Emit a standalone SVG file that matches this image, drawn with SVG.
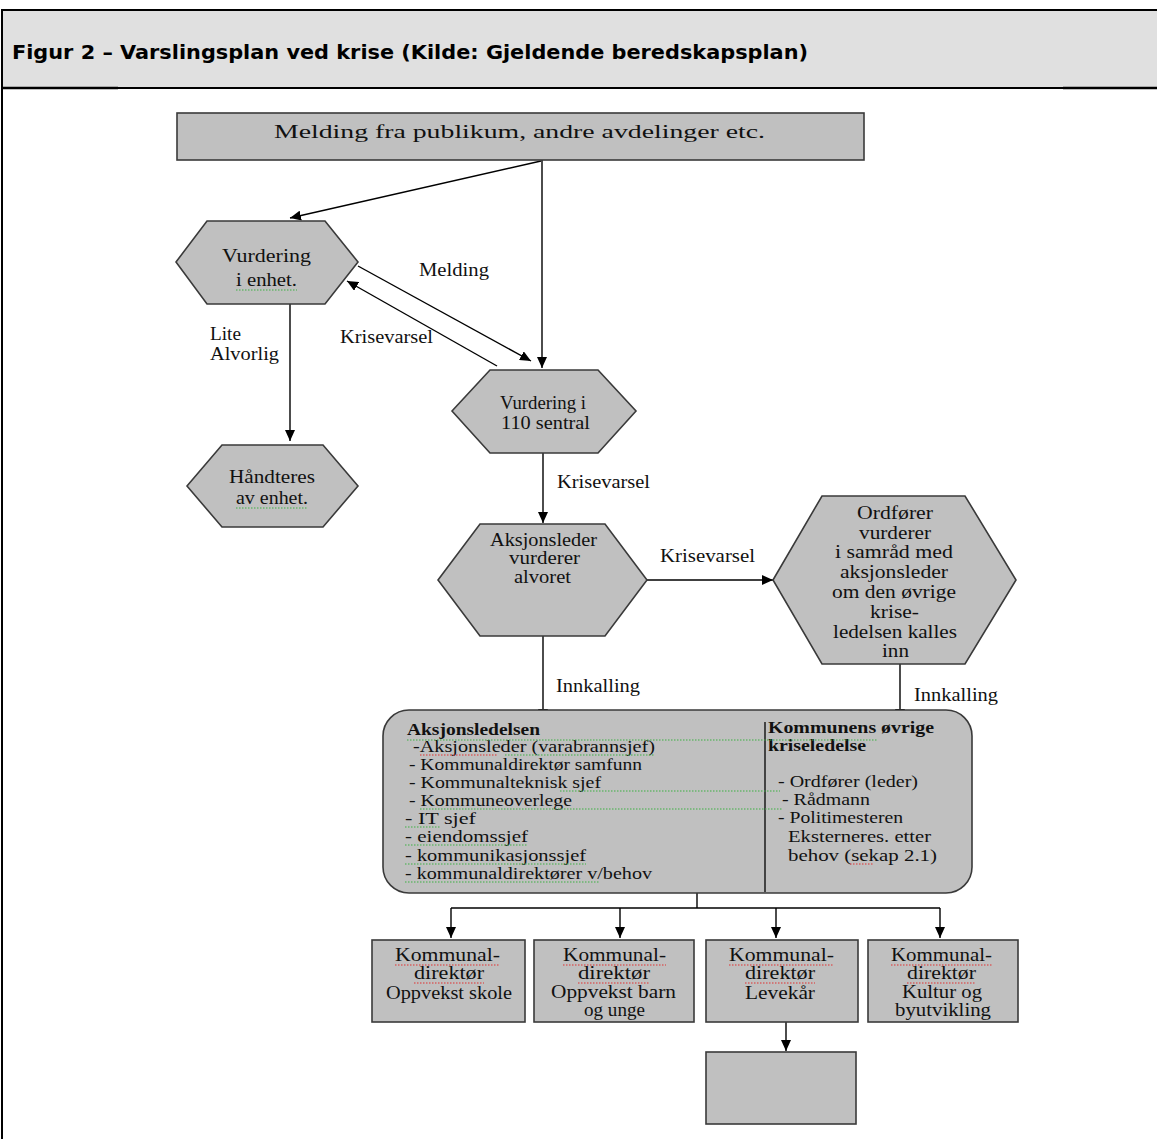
<svg xmlns="http://www.w3.org/2000/svg" width="1157" height="1139" viewBox="0 0 1157 1139">
<defs>
<marker id="ah" markerUnits="userSpaceOnUse" markerWidth="12" markerHeight="10" refX="11" refY="5" orient="auto">
<path d="M0,0 L11,5 L0,10 z" fill="#000"/>
</marker>
<style>
.n{fill:#c0c0c0;stroke:#3a3a3a;stroke-width:1.6}
.t{font-family:"Liberation Serif","Times New Roman",serif;font-size:18px;fill:#111}
.s{font-size:16px}
.c{text-anchor:middle}
.b{font-weight:bold}
.e{stroke:#000;stroke-width:1.4;fill:none}
.a{marker-end:url(#ah)}
.g{stroke:#3cb043;stroke-width:1.2;stroke-dasharray:1.5 1.5;fill:none}
.r{stroke:#e03030;stroke-width:1.2;stroke-dasharray:1.5 1.5;fill:none}
</style>
</defs>
<rect x="0" y="0" width="1157" height="1139" fill="#fff"/>
<g id="header">
<rect x="2" y="10" width="1160" height="78" fill="#e0e0e0" stroke="#000" stroke-width="2"/>
<line x1="2" y1="10" x2="2" y2="1139" stroke="#000" stroke-width="2"/>
<line x1="2" y1="88" x2="118" y2="88" stroke="#000" stroke-width="2.5"/>
<line x1="1063" y1="88" x2="1157" y2="88" stroke="#000" stroke-width="2.5"/>
<text x="12" y="59" font-family="'DejaVu Sans',Verdana,sans-serif" font-weight="bold" font-size="19" textLength="796" lengthAdjust="spacingAndGlyphs" fill="#000">Figur 2 – Varslingsplan ved krise (Kilde: Gjeldende beredskapsplan)</text>
</g>
<g id="connectors">
<line class="e a" x1="541" y1="161" x2="290" y2="218"/>
<line class="e a" x1="542" y1="160" x2="542" y2="368"/>
<line class="e a" x1="358" y1="266" x2="531" y2="361"/>
<line class="e a" x1="497" y1="366" x2="347" y2="281"/>
<line class="e a" x1="290" y1="304" x2="290" y2="441"/>
<line class="e a" x1="543" y1="453" x2="543" y2="523"/>
<line class="e a" x1="647" y1="580" x2="773" y2="580"/>
<line class="e a" x1="543" y1="636" x2="543" y2="720"/>
<line class="e a" x1="900" y1="664" x2="900" y2="720"/>
<line class="e" x1="697" y1="880" x2="697" y2="908"/>
<line class="e" x1="451" y1="908" x2="940" y2="908"/>
<line class="e a" x1="451" y1="908" x2="451" y2="938"/>
<line class="e a" x1="620" y1="908" x2="620" y2="938"/>
<line class="e a" x1="776" y1="908" x2="776" y2="938"/>
<line class="e a" x1="940" y1="908" x2="940" y2="938"/>
<line class="e a" x1="786" y1="1022" x2="786" y2="1051"/>
<text class="t" x="419" y="276" textLength="70" lengthAdjust="spacingAndGlyphs">Melding</text>
<text class="t" x="340" y="343" textLength="93" lengthAdjust="spacingAndGlyphs">Krisevarsel</text>
<text class="t" x="210" y="340" textLength="31" lengthAdjust="spacingAndGlyphs">Lite</text>
<text class="t" x="210" y="360" textLength="69" lengthAdjust="spacingAndGlyphs">Alvorlig</text>
<text class="t" x="557" y="488" textLength="93" lengthAdjust="spacingAndGlyphs">Krisevarsel</text>
<text class="t" x="660" y="562" textLength="95" lengthAdjust="spacingAndGlyphs">Krisevarsel</text>
<text class="t" x="556" y="692" textLength="84" lengthAdjust="spacingAndGlyphs">Innkalling</text>
<text class="t" x="914" y="701" textLength="84" lengthAdjust="spacingAndGlyphs">Innkalling</text>
</g>
<g id="melding">
<rect class="n" x="177" y="113" width="687" height="47"/>
<text class="t" x="274" y="138" font-size="22" textLength="491" lengthAdjust="spacingAndGlyphs">Melding fra publikum, andre avdelinger etc.</text>
</g>
<g id="vurdering-enhet">
<polygon class="n" points="176,262 207,221 325,221 358,262 325,304 207,304"/>
<text class="t" x="222" y="262" textLength="89" lengthAdjust="spacingAndGlyphs">Vurdering</text>
<text class="t" x="236" y="286" textLength="61" lengthAdjust="spacingAndGlyphs">i enhet.</text>
<path class="g" d="M236,290 L297,290"/>
</g>
<g id="handteres">
<polygon class="n" points="187,486 222,445 323,445 358,486 323,527 222,527"/>
<text class="t" x="229" y="483" textLength="86" lengthAdjust="spacingAndGlyphs">Håndteres</text>
<text class="t" x="236" y="504" textLength="72" lengthAdjust="spacingAndGlyphs">av enhet.</text>
<path class="g" d="M236,508 L308,508"/>
</g>
<g id="vurdering-110">
<polygon class="n" points="452,411 490,370 598,370 636,411 598,453 490,453"/>
<text class="t" x="500" y="409" textLength="86" lengthAdjust="spacingAndGlyphs">Vurdering i</text>
<text class="t" x="501" y="429" textLength="89" lengthAdjust="spacingAndGlyphs">110 sentral</text>
</g>
<g id="aksjonsleder">
<polygon class="n" points="438,580 480,524 605,524 647,580 605,636 480,636"/>
<text class="t" x="490" y="546" textLength="107" lengthAdjust="spacingAndGlyphs">Aksjonsleder</text>
<text class="t" x="509" y="564" textLength="71" lengthAdjust="spacingAndGlyphs">vurderer</text>
<text class="t" x="514" y="583" textLength="57" lengthAdjust="spacingAndGlyphs">alvoret</text>
</g>
<g id="ordforer">
<polygon class="n" points="773,580 822,496 965,496 1016,580 965,664 822,664"/>
<text class="t" x="857" y="519" textLength="76" lengthAdjust="spacingAndGlyphs">Ordfører</text>
<text class="t" x="859" y="539" textLength="72" lengthAdjust="spacingAndGlyphs">vurderer</text>
<text class="t" x="835" y="558" textLength="118" lengthAdjust="spacingAndGlyphs">i samråd med</text>
<text class="t" x="840" y="578" textLength="108" lengthAdjust="spacingAndGlyphs">aksjonsleder</text>
<text class="t" x="832" y="598" textLength="124" lengthAdjust="spacingAndGlyphs">om den øvrige</text>
<text class="t" x="870" y="618" textLength="49" lengthAdjust="spacingAndGlyphs">krise-</text>
<text class="t" x="833" y="638" textLength="124" lengthAdjust="spacingAndGlyphs">ledelsen kalles</text>
<text class="t" x="882" y="657" textLength="27" lengthAdjust="spacingAndGlyphs">inn</text>
</g>
<g id="kriseledelse">
<rect class="n" x="383" y="710" width="589" height="183" rx="26" ry="26"/>
<line x1="765" y1="722" x2="765" y2="892" stroke="#000" stroke-width="1.3"/>
<text class="t s b" x="407" y="735" textLength="133" lengthAdjust="spacingAndGlyphs">Aksjonsledelsen</text>
<text class="t s" x="413" y="752" textLength="242" lengthAdjust="spacingAndGlyphs">-Aksjonsleder  (varabrannsjef)</text>
<text class="t s" x="409" y="770" textLength="233" lengthAdjust="spacingAndGlyphs">- Kommunaldirektør samfunn</text>
<text class="t s" x="409" y="788" textLength="192" lengthAdjust="spacingAndGlyphs">- Kommunalteknisk sjef</text>
<text class="t s" x="409" y="806" textLength="163" lengthAdjust="spacingAndGlyphs">- Kommuneoverlege</text>
<text class="t s" x="405" y="824" textLength="71" lengthAdjust="spacingAndGlyphs">-  IT sjef</text>
<text class="t s" x="405" y="842" textLength="123" lengthAdjust="spacingAndGlyphs">-  eiendomssjef</text>
<text class="t s" x="405" y="861" textLength="181" lengthAdjust="spacingAndGlyphs">-  kommunikasjonssjef</text>
<text class="t s" x="405" y="879" textLength="247" lengthAdjust="spacingAndGlyphs">-  kommunaldirektører v/behov</text>
<text class="t s b" x="768" y="733" textLength="166" lengthAdjust="spacingAndGlyphs">Kommunens øvrige</text>
<text class="t s b" x="768" y="751" textLength="98" lengthAdjust="spacingAndGlyphs">kriseledelse</text>
<text class="t s" x="778" y="787" textLength="140" lengthAdjust="spacingAndGlyphs">- Ordfører (leder)</text>
<text class="t s" x="782" y="805" textLength="88" lengthAdjust="spacingAndGlyphs">- Rådmann</text>
<text class="t s" x="778" y="823" textLength="125" lengthAdjust="spacingAndGlyphs">- Politimesteren</text>
<text class="t s" x="788" y="842" textLength="143" lengthAdjust="spacingAndGlyphs">Eksterneres. etter</text>
<text class="t s" x="788" y="861" textLength="149" lengthAdjust="spacingAndGlyphs">behov (sekap 2.1)</text>
<path class="g" d="M407,740 L878,740"/>
<path class="r" d="M420,755 L498,755"/>
<path class="g" d="M505,755 L655,755"/>
<path class="g" d="M560,791 L780,791"/>
<path class="g" d="M420,809 L782,809"/>
<path class="g" d="M405,827 L440,827"/>
<path class="g" d="M405,845 L528,845"/>
<path class="g" d="M405,864 L586,864"/>
<path class="g" d="M405,882 L600,882"/>
<path class="r" d="M850,864 L873,864"/>
</g>
<g id="kd-skole">
<rect class="n" x="372" y="940" width="153" height="82"/>
<text class="t" x="395" y="961" textLength="105" lengthAdjust="spacingAndGlyphs">Kommunal-</text>
<text class="t" x="414" y="979" textLength="70" lengthAdjust="spacingAndGlyphs">direktør</text>
<text class="t" x="386" y="999" textLength="126" lengthAdjust="spacingAndGlyphs">Oppvekst skole</text>
<path class="r" d="M395,965 L500,965 M414,983 L484,983"/>
</g>
<g id="kd-barn">
<rect class="n" x="534" y="940" width="160" height="82"/>
<text class="t" x="563" y="961" textLength="103" lengthAdjust="spacingAndGlyphs">Kommunal-</text>
<text class="t" x="578" y="979" textLength="72" lengthAdjust="spacingAndGlyphs">direktør</text>
<text class="t" x="551" y="998" textLength="125" lengthAdjust="spacingAndGlyphs">Oppvekst barn</text>
<text class="t" x="584" y="1016" textLength="61" lengthAdjust="spacingAndGlyphs">og unge</text>
<path class="r" d="M563,965 L666,965 M578,983 L650,983"/>
</g>
<g id="kd-levekar">
<rect class="n" x="706" y="940" width="152" height="82"/>
<text class="t" x="729" y="961" textLength="105" lengthAdjust="spacingAndGlyphs">Kommunal-</text>
<text class="t" x="745" y="979" textLength="70" lengthAdjust="spacingAndGlyphs">direktør</text>
<text class="t" x="745" y="999" textLength="70" lengthAdjust="spacingAndGlyphs">Levekår</text>
<path class="r" d="M729,965 L834,965 M745,983 L815,983"/>
</g>
<g id="kd-kultur">
<rect class="n" x="868" y="940" width="150" height="82"/>
<text class="t" x="891" y="961" textLength="101" lengthAdjust="spacingAndGlyphs">Kommunal-</text>
<text class="t" x="907" y="979" textLength="69" lengthAdjust="spacingAndGlyphs">direktør</text>
<text class="t" x="902" y="998" textLength="80" lengthAdjust="spacingAndGlyphs">Kultur og</text>
<text class="t" x="895" y="1016" textLength="96" lengthAdjust="spacingAndGlyphs">byutvikling</text>
<path class="r" d="M891,965 L992,965 M907,983 L976,983"/>
</g>
<g id="tom-boks">
<rect class="n" x="706" y="1052" width="150" height="72"/>
</g>
</svg>
